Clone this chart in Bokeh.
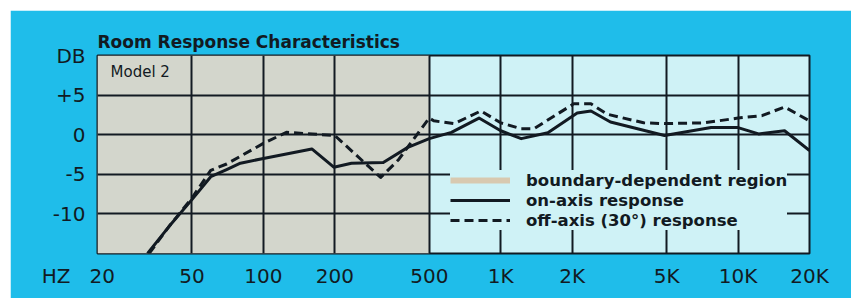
from bokeh.plotting import figure
from bokeh.models import FixedTicker, Label, Legend, LegendItem
from bokeh.embed import file_html
from bokeh.resources import INLINE

# ---- data ----
freq_on = [32.5, 40, 50, 60, 70, 80, 100, 160, 198, 235, 320, 406, 500, 620, 810, 1000,
           1220, 1580, 2100, 2400, 2900, 4900, 7700, 10000, 12200, 15700, 20000]
db_on = [-15, -11.6, -8.2, -5.3, -4.4, -3.6, -3.0, -1.8, -4.1, -3.6, -3.5, -1.6, -0.5, 0.3,
         2.1, 0.5, -0.5, 0.25, 2.75, 3.0, 1.6, -0.1, 0.9, 0.9, 0.1, 0.5, -2.0]

freq_off = [33, 40, 50, 60, 70, 100, 125, 200, 312, 370, 500, 522, 637, 825, 1000, 1220,
            1380, 2030, 2400, 2800, 4000, 4900, 7200, 10000, 12600, 15700, 20000]
db_off = [-15, -11.6, -8.0, -4.5, -3.7, -1.1, 0.3, -0.1, -5.4, -3.2, 2.1, 1.75, 1.4, 3.0,
          1.5, 0.75, 0.75, 3.9, 3.9, 2.6, 1.5, 1.4, 1.5, 2.1, 2.4, 3.5, 1.75]

boundary_region = [20, 500]          # Hz, boundary-dependent region
NB = "\u00a0"
x_ticks = [20, 50, 100, 200, 500, 1000, 2000, 5000, 10000, 20000]
x_tick_labels = ["HZ" + NB * 3 + "20" + NB * 6, "50", "100", "200", "500",
                 "1K", "2K", "5K", "10K", "20K"]
y_ticks = [-15, -10, -5, 0, 5, 10]
y_tick_labels = ["", "-10", "-5", "0", "+5", "DB"]

BLUE = "#1fbdea"
GRAY = "#d3d6cc"
CYAN = "#cff2f6"
INK = "#121a22"
TAN = "#d8c9b0"
FONT = "DejaVu Sans"

p = figure(width=841, height=288, x_axis_type="log",
           x_range=(20, 20000), y_range=(-15, 10),
           output_backend="svg", toolbar_location=None,
           min_border_left=87, min_border_right=42,
           min_border_top=45, min_border_bottom=45,
           title="Room Response Characteristics")
p.margin = (10, 0, 0, 10)

p.border_fill_color = BLUE
p.background_fill_color = CYAN
p.outline_line_color = INK
p.outline_line_width = 2

p.title.text_font = FONT
p.title.text_font_size = "17px"
p.title.text_font_style = "bold"
p.title.text_color = INK
p.title.align = "left"
p.title.offset = 0
p.title.standoff = 7

# shaded boundary-dependent region
p.quad(left=[boundary_region[0]], right=[boundary_region[1]], bottom=[-15], top=[10],
       fill_color=GRAY, line_color=None, level="underlay")

# axes
p.xaxis.ticker = FixedTicker(ticks=x_ticks, minor_ticks=[])
p.xaxis.major_label_overrides = {t: l for t, l in zip(x_ticks, x_tick_labels)}
p.yaxis.ticker = FixedTicker(ticks=y_ticks, minor_ticks=[])
p.yaxis.major_label_overrides = {t: l for t, l in zip(y_ticks, y_tick_labels)}
for ax in (p.xaxis, p.yaxis):
    ax.axis_line_color = None
    ax.major_tick_line_color = None
    ax.minor_tick_line_color = None
    ax.major_label_text_font = FONT
    ax.major_label_text_font_size = "20px"
    ax.major_label_text_color = INK
p.xaxis.major_label_standoff = 4
p.yaxis.major_label_standoff = 6

p.grid.grid_line_color = INK
p.grid.grid_line_width = 2
p.grid.grid_line_alpha = 1

# curves
on_r = p.line(freq_on, db_on, line_color=INK, line_width=3, line_join="round")
off_r = p.line(freq_off, db_off, line_color=INK, line_width=3, line_dash="9 5",
               line_join="round")
# legend-only swatch for the shaded region (no visible points)
reg_r = p.line(boundary_region, [float("nan"), float("nan")], line_color=TAN, line_width=6)

legend = Legend(items=[
    LegendItem(label="boundary-dependent region", renderers=[reg_r]),
    LegendItem(label="on-axis response", renderers=[on_r]),
    LegendItem(label="off-axis (30°) response", renderers=[off_r]),
], location=(353, 23))
legend.background_fill_color = CYAN
legend.background_fill_alpha = 1
legend.border_line_color = None
legend.label_text_font = FONT
legend.label_text_font_size = "16.5px"
legend.label_text_font_style = "bold"
legend.label_text_color = INK
legend.glyph_width = 60
legend.glyph_height = 20
legend.label_height = 20
legend.spacing = 0
legend.padding = 6
legend.label_standoff = 16
legend.margin = 0
p.add_layout(legend, "center")

p.add_layout(Label(x=22.7, y=7.9, text="Model 2", text_font=FONT, text_font_size="15px",
                   text_color=INK, text_baseline="middle", text_align="left"))

open("out.html", "w").write(file_html(p, INLINE))
